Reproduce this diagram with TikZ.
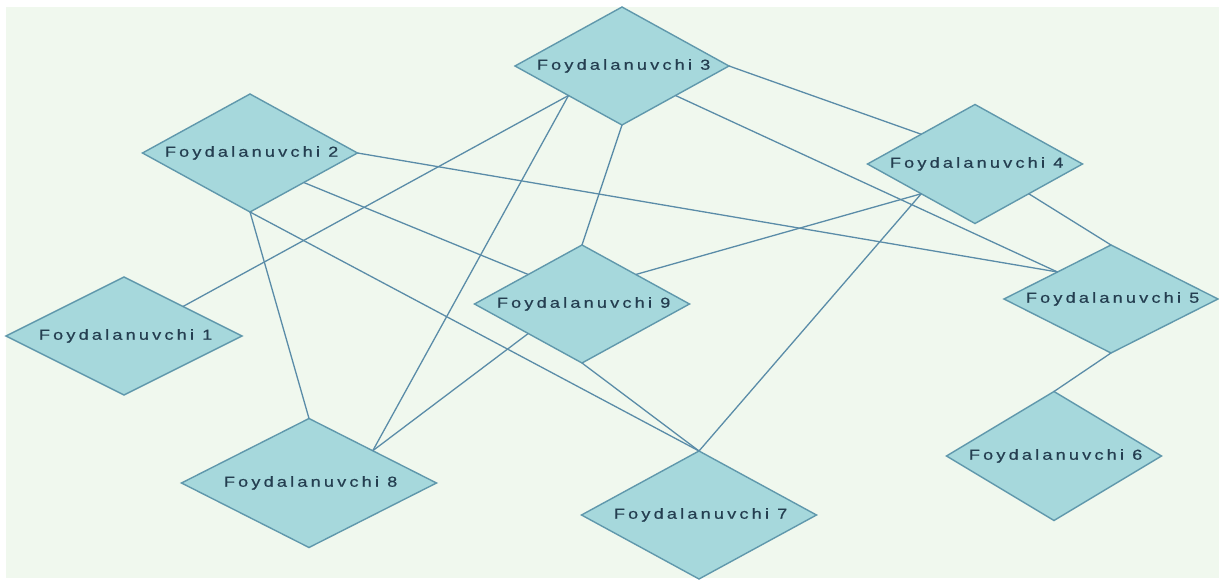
\documentclass[tikz,border=0pt]{standalone}
\usepackage{fontspec}
\setmainfont{Liberation Sans}
\newfontfamily\lblfont[LetterSpace=22,FakeStretch=1.25,FakeBold=0.6]{Liberation Sans}
\usetikzlibrary{shapes.geometric}
\definecolor{bgcol}{RGB}{240,248,238}
\definecolor{fillcol}{RGB}{166,216,220}
\definecolor{bordcol}{RGB}{96,152,172}
\definecolor{edgecol}{RGB}{90,140,168}
\definecolor{txtcol}{RGB}{36,62,80}
\tikzset{
  user/.style={diamond, draw=bordcol, fill=fillcol, line width=1.4pt, inner sep=0pt, outer sep=0pt},
  lbl/.style={font=\lblfont\fontsize{14.5}{16}\selectfont, text=txtcol, inner sep=0pt},
  link/.style={draw=edgecol, line width=1.3pt},
}
\newcommand{\lbltext}[1]{\kern3.2pt #1}
\begin{document}
\begin{tikzpicture}[x=1pt,y=1pt]
\useasboundingbox (0,0) rectangle (1219,579);
\fill[white] (0,0) rectangle (1219,579);
\fill[bgcol] (6,1) rectangle (1219,572);
% diamonds
\node[user, minimum width=236pt, minimum height=118pt] (n1) at (124,243) {};
\node[user, minimum width=215pt, minimum height=118pt] (n2) at (250,426) {};
\node[user, minimum width=214pt, minimum height=118pt] (n3) at (622,513) {};
\node[user, minimum width=215pt, minimum height=119pt] (n4) at (975,415) {};
\node[user, minimum width=214pt, minimum height=108pt] (n5) at (1111,280) {};
\node[user, minimum width=215pt, minimum height=129pt] (n6) at (1054,123) {};
\node[user, minimum width=235pt, minimum height=128pt] (n7) at (699,64) {};
\node[user, minimum width=255pt, minimum height=129pt] (n8) at (309,96) {};
\node[user, minimum width=215pt, minimum height=118pt] (n9) at (582,275) {};
% connectors
\draw[link] (n3.south west) -- (n1.north east);
\draw[link] (n3.south west) -- (n8.north east);
\draw[link] (n3.south) -- (n9.north);
\draw[link] (n3.east) -- (n4.north west);
\draw[link] (n3.south east) -- (n5.north west);
\draw[link] (n2.east) -- (n5.north west);
\draw[link] (n2.south east) -- (n9.north west);
\draw[link] (n2.south) -- (n7.north);
\draw[link] (n2.south) -- (n8.north);
\draw[link] (n4.south east) -- (n5.north);
\draw[link] (n4.south west) -- (n9.north east);
\draw[link] (n4.south west) -- (n7.north);
\draw[link] (n9.south) -- (n7.north);
\draw[link] (n9.south west) -- (n8.north east);
\draw[link] (n5.south) -- (n6.north);
% labels
\node[lbl] (t1) at (n1) {\lbltext{Foydalanuvchi 1}};
\node[lbl] (t2) at (n2) {\lbltext{Foydalanuvchi 2}};
\node[lbl] (t3) at (n3) {\lbltext{Foydalanuvchi 3}};
\node[lbl] (t4) at (n4) {\lbltext{Foydalanuvchi 4}};
\node[lbl] (t5) at (n5) {\lbltext{Foydalanuvchi 5}};
\node[lbl] (t6) at (n6) {\lbltext{Foydalanuvchi 6}};
\node[lbl] (t7) at (n7) {\lbltext{Foydalanuvchi 7}};
\node[lbl] (t8) at (n8) {\lbltext{Foydalanuvchi 8}};
\node[lbl] (t9) at (n9) {\lbltext{Foydalanuvchi 9}};
\end{tikzpicture}
\end{document}
